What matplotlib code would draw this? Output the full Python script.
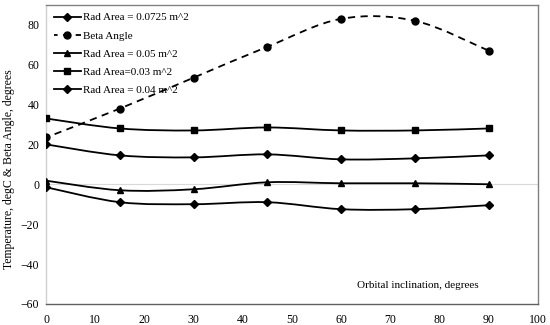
import numpy as np
import matplotlib.pyplot as plt
from matplotlib.path import Path
from matplotlib.patches import PathPatch
from matplotlib.lines import Line2D

plt.rcParams['font.family'] = ['Liberation Serif', 'DejaVu Serif']

incl = [0, 15, 30, 45, 60, 75, 90]
rad_0725 = [-1.5, -9, -10, -9, -12.5, -12.5, -10.5]
beta = [23.5, 38, 53.5, 69, 83, 82, 67]
rad_05 = [1.8, -3, -2.5, 1, 0.5, 0.5, 0]
rad_03 = [33, 28, 27, 28.5, 27, 27, 28]
rad_04 = [20, 14.5, 13.5, 15, 12.5, 13, 14.5]


def smooth(ax, x, y, ls):
    # catmull-rom style bezier through the points, like excel's smoothed line
    x = np.asarray(x, float)
    y = np.asarray(y, float)
    n = len(x)
    verts = [(x[0], y[0])]
    codes = [Path.MOVETO]
    for i in range(n - 1):
        i0 = max(i - 1, 0)
        i3 = min(i + 2, n - 1)
        c1 = (x[i] + (x[i + 1] - x[i0]) / 6, y[i] + (y[i + 1] - y[i0]) / 6)
        c2 = (x[i + 1] - (x[i3] - x[i]) / 6, y[i + 1] - (y[i3] - y[i]) / 6)
        verts += [c1, c2, (x[i + 1], y[i + 1])]
        codes += [Path.CURVE4] * 3
    ax.add_patch(PathPatch(Path(verts, codes), fill=False, ec='black',
                           lw=1.3, ls=ls, zorder=3))


fig = plt.figure(figsize=(5.5, 3.25), dpi=100)
ax = fig.add_axes([0.084, 0.065, 0.894, 0.92])

series = [
    (rad_0725, 'D', '-', 'Rad Area = 0.0725 m^2'),
    (beta, 'o', (2, (4, 3)), 'Beta Angle'),
    (rad_05, '^', '-', 'Rad Area = 0.05 m^2'),
    (rad_03, 's', '-', 'Rad Area=0.03 m^2'),
    (rad_04, 'D', '-', 'Rad Area = 0.04 m^2'),
]
handles = []
for vals, mk, ls, lab in series:
    smooth(ax, incl, vals, ls)
    ms = 4.5 if mk == 'D' else 5
    ax.plot(incl, vals, ls='none', marker=mk, ms=ms, color='black', zorder=4)
    handles.append(Line2D([], [], color='black', lw=1.3, ls=ls, marker=mk,
                          ms=ms, label=lab))

ax.axhline(0, color='#d9d9d9', lw=0.8, zorder=1)

ax.set_xlim(0, 100)
ax.set_ylim(-60, 90)
ax.set_xticks(range(0, 101, 10))
ax.set_yticks(range(-60, 81, 20))
ax.set_yticklabels(['\u221260', '\u221240', '\u221220', '0', '20', '40', '60', '80'])
ax.tick_params(length=0, labelsize=8.5)
ax.tick_params(axis='x', pad=7)
ax.tick_params(axis='y', pad=5)

for s in ['top', 'right']:
    ax.spines[s].set_color('#808080')
ax.spines['left'].set_color('#d0d0d0')
ax.spines['bottom'].set_color('#606060')
for s in ax.spines.values():
    s.set_linewidth(1.0)

ax.text(88, -51, 'Orbital inclination, degrees', fontsize=8, ha='right', va='center')
ax.set_ylabel('Temperature, degC & Beta Angle, degrees', fontsize=8.5, labelpad=4)
ax.yaxis.set_label_coords(-0.064, 0.45)

ax.legend(handles=handles, loc='upper left', frameon=False, fontsize=8,
          handlelength=2.4, handletextpad=0.2, labelspacing=0.75,
          borderaxespad=0.3, bbox_to_anchor=(0.0, 1.0))

fig.savefig('out.png', dpi=100)
